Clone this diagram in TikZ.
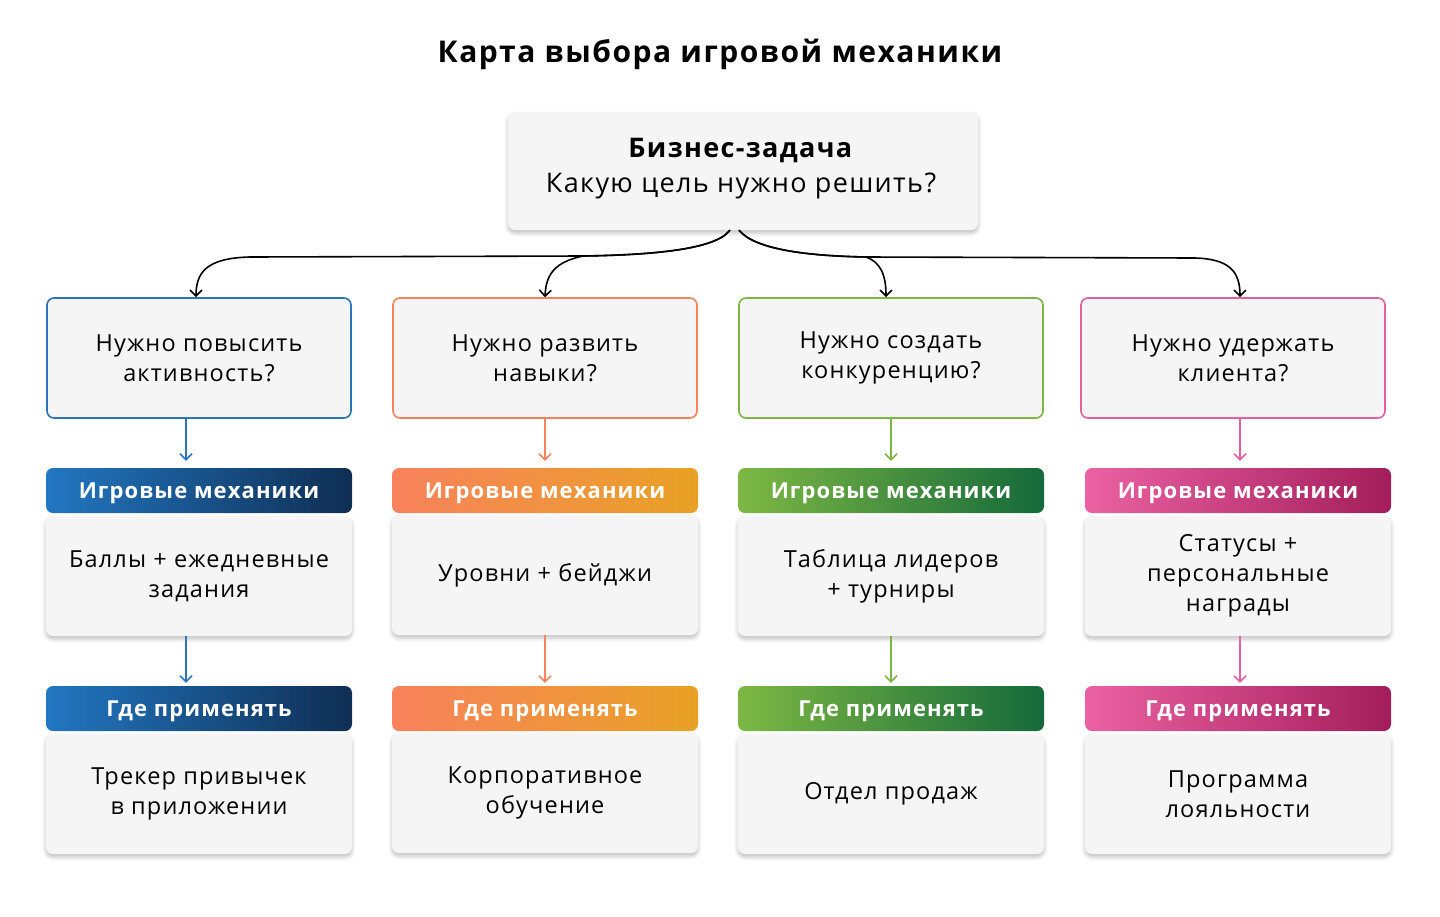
\documentclass[tikz,border=0pt]{standalone}
\usepackage{fontspec}
\setmainfont{Open Sans}[LetterSpace=5]
\usetikzlibrary{arrows.meta,shadows.blur,calc}
\definecolor{cblue}{HTML}{2A75BB}
\definecolor{cblueA}{HTML}{2277C2}
\definecolor{cblueB}{HTML}{0F2E53}
\definecolor{corange}{HTML}{F5845C}
\definecolor{corangeA}{HTML}{F8825C}
\definecolor{corangeB}{HTML}{E9A125}
\definecolor{cgreen}{HTML}{7DB545}
\definecolor{cgreenA}{HTML}{7DB843}
\definecolor{cgreenB}{HTML}{146A3B}
\definecolor{cpink}{HTML}{E5609E}
\definecolor{cpinkA}{HTML}{EA62A2}
\definecolor{cpinkB}{HTML}{A41D5B}
\definecolor{boxfill}{HTML}{F5F5F5}
\tikzset{
  card/.style={fill=boxfill, rounded corners=7pt, inner sep=0pt, align=center,
    font=\fontsize{23.5}{30}\selectfont,
    blur shadow={shadow xshift=0pt, shadow yshift=-3pt, shadow blur radius=4pt, shadow opacity=25}},
  qbox/.style={fill=boxfill, rounded corners=7pt, line width=1.6pt, inner sep=0pt, align=center,
    minimum width=304pt, minimum height=120pt, font=\fontsize{23.5}{30}\selectfont},
  hdr/.style={rounded corners=7pt, inner sep=0pt, minimum width=306pt, minimum height=45pt,
    text height=16pt, text depth=0pt,
    text=white, font=\bfseries\fontsize{22}{26}\selectfont},
  body/.style={card, minimum width=306pt, minimum height=120pt},
  arr/.style={-{Straight Barb[length=6pt,width=12pt]}, line width=1.5pt},
  link/.style={-{Straight Barb[length=6pt,width=12pt]}, line width=1.6pt, black},
}
\begin{document}
\begin{tikzpicture}[x=1pt,y=-1pt]
\useasboundingbox (0,0) rectangle (1440,916);
\node[font=\bfseries\fontsize{30}{36}\selectfont] (title) at (720,54) {Карта выбора игровой механики};

\node[card, minimum width=470pt, minimum height=118pt] (top) at (743,171) {};
\node[align=center, font=\fontsize{27}{35}\selectfont] (toptext) at (741,169)
  {\textbf{Бизнес-задача}\\Какую цель нужно решить?};

% question boxes
\node[qbox, draw=cblue]   (q1) at (199,358) {Нужно повысить\\активность?};
\node[qbox, draw=corange] (q2) at (545,358) {Нужно развить\\навыки?};
\node[qbox, draw=cgreen]  (q3) at (891,358) {Нужно создать\\конкуренцию?};
\node[qbox, draw=cpink]   (q4) at (1233,358) {Нужно удержать\\клиента?};

% mechanics headers
\node[hdr, left color=cblueA, right color=cblueB]     (h1) at (199,490.5) {Игровые механики};
\node[hdr, left color=corangeA, right color=corangeB] (h2) at (545,490.5) {Игровые механики};
\node[hdr, left color=cgreenA, right color=cgreenB]   (h3) at (891,490.5) {Игровые механики};
\node[hdr, left color=cpinkA, right color=cpinkB]     (h4) at (1238,490.5) {Игровые механики};

\node[body] (b1) at (199,576) {Баллы + ежедневные\\задания};
\node[body] (b2) at (545,575) {Уровни + бейджи};
\node[body] (b3) at (891,576) {Таблица лидеров\\+ турниры};
\node[body] (b4) at (1238,576) {Статусы +\\персональные\\награды};

% where headers
\node[hdr, left color=cblueA, right color=cblueB]     (w1) at (199,708.5) {Где применять};
\node[hdr, left color=corangeA, right color=corangeB] (w2) at (545,708.5) {Где применять};
\node[hdr, left color=cgreenA, right color=cgreenB]   (w3) at (891,708.5) {Где применять};
\node[hdr, left color=cpinkA, right color=cpinkB]     (w4) at (1238,708.5) {Где применять};

\node[body] (u1) at (199,794) {Трекер привычек\\в приложении};
\node[body] (u2) at (545,793) {Корпоративное\\обучение};
\node[body] (u3) at (891,794) {Отдел продаж};
\node[body] (u4) at (1238,794) {Программа\\лояльности};

% vertical arrows
\draw[arr, cblue]   ($(q1.south)+(-13,0)$) -- ($(h1.north)+(-13,-7)$);
\draw[arr, corange] (q2.south) -- ($(h2.north)+(0,-7)$);
\draw[arr, cgreen]  (q3.south) -- ($(h3.north)+(0,-7)$);
\draw[arr, cpink]   ($(q4.south)+(7,0)$) -- ($(h4.north)+(2,-7)$);

\draw[arr, cblue]   ($(b1.south)+(-13,0)$) -- ($(w1.north)+(-13,-3)$);
\draw[arr, corange] (b2.south) -- ($(w2.north)+(0,-3)$);
\draw[arr, cgreen]  (b3.south) -- ($(w3.north)+(0,-3)$);
\draw[arr, cpink]   ($(b4.south)+(2,0)$) -- ($(w4.north)+(2,-3)$);

% curved links from top
\draw[link] ($(top.south)+(-13,0)$) .. controls (715,250) and (650,255) .. (583,256)
   -- (250,257) .. controls (207,258) and (196,272) .. ($(q1.north)+(-3,0)$);
\draw[link] ($(top.south)+(-13,0)$) .. controls (715,250) and (650,255) .. (583,256)
   .. controls (555,262) and (546,274) .. (q2.north);
\draw[link] ($(top.south)+(-4,0)$) .. controls (755,250) and (810,256) .. (866,257)
   .. controls (880,262) and (886,274) .. ($(q3.north)+(-5,0)$);
\draw[link] ($(top.south)+(-4,0)$) .. controls (755,250) and (810,256) .. (866,257)
   -- (1195,258) .. controls (1230,259) and (1240,272) .. ($(q4.north)+(7,0)$);
\end{tikzpicture}
\end{document}
